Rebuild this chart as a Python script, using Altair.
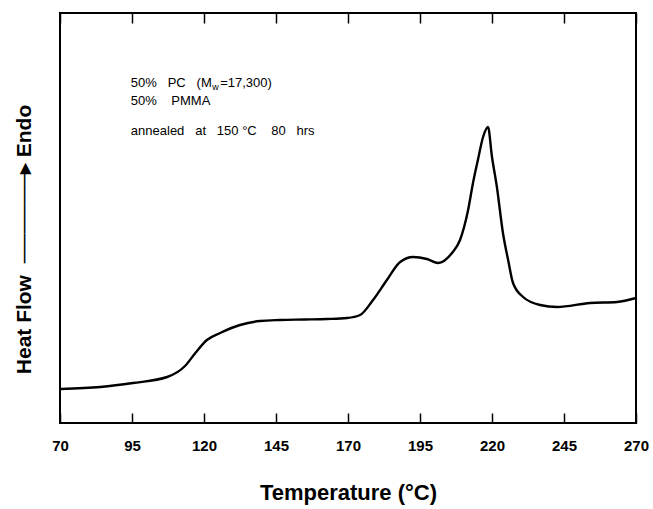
import altair as alt
import pandas as pd

# DSC trace (temperature in °C, heat flow in arbitrary units)
temperature = [70.3, 84.0, 95.3, 107.2, 113.4, 117.0, 121.0, 125.6, 132.5, 139.4,
               146.4, 155.0, 162.7, 169.7, 174.2, 178.7, 183.5, 188.1, 192.6, 197.4,
               201.3, 206.1, 208.9, 211.7, 213.4, 215.1, 216.9, 218.6, 220.0, 221.7,
               223.8, 225.6, 227.3, 230.8, 236.7, 242.6, 254.0, 263.4, 270.0]
heat_flow = [34, 36, 40, 46, 57, 70, 83, 90, 98, 102,
             103, 103.5, 104, 105, 108, 123, 143, 161, 166, 164,
             160, 170, 183, 213, 240, 263, 286, 296, 266, 236,
             190, 163, 140, 126, 118, 116, 120, 121, 125]
x_ticks = [70, 95, 120, 145, 170, 195, 220, 245, 270]

NB = "\u00a0"
line1_main = "50%" + NB * 3 + "PC" + NB * 3 + "(M"
line1_sub = "w"
line1_rest = "=17,300)"
line2 = "50%" + NB * 4 + "PMMA"
line3 = ("annealed" + NB * 3 + "at" + NB * 3 + "150" + NB + "°C" + NB * 4
         + "80" + NB * 3 + "hrs")
y_title = "Heat Flow" + NB * 2 + "\u2500" * 6 + "\u25B8" + NB + "Endo"

FONT = "Liberation Sans"

df = pd.DataFrame({"T": temperature, "H": heat_flow})

xscale = alt.Scale(domain=[70, 270], nice=False, zero=False)
yscale = alt.Scale(domain=[0, 410], nice=False, zero=False)

x_bottom = alt.X(
    "T:Q", scale=xscale,
    axis=alt.Axis(
        orient="bottom", values=x_ticks, offset=-10, tickSize=10, tickWidth=1.5,
        tickColor="black", domain=False, grid=False, labelFlush=False,
        labelOverlap=False, labelFont=FONT, labelFontSize=15, labelFontWeight="bold",
        labelColor="black", labelPadding=15,
        title="Temperature (\u00b0C)", titleFont=FONT, titleFontSize=22,
        titleFontWeight="bold", titleColor="black", titleX=288, titleY=79,
        titleBaseline="middle", titleAlign="center",
    ),
)
x_top = alt.X(
    "T:Q", scale=xscale,
    axis=alt.Axis(
        orient="top", values=x_ticks, offset=-10, tickSize=10, tickWidth=1.5,
        tickColor="black", domain=False, grid=False, labels=False, title=None,
    ),
)
x_plain = alt.X("T:Q", scale=xscale, axis=None)

y_main = alt.Y(
    "H:Q", scale=yscale,
    axis=alt.Axis(
        orient="left", ticks=False, labels=False, domain=False, grid=False,
        title=y_title, titleFont=FONT, titleFontSize=21,
        titleFontWeight="bold", titleColor="black", titleAngle=270,
        titleX=-36, titleY=226, titleBaseline="middle", titleAlign="center",
    ),
)

curve = alt.Chart(df).mark_line(
    color="black", strokeWidth=2.4, interpolate="monotone"
).encode(x=x_bottom, y=y_main)


def label(text, t, h, size=13, top_axis=False):
    d = pd.DataFrame({"T": [t], "H": [h], "txt": [text]})
    return alt.Chart(d).mark_text(
        align="left", baseline="alphabetic", font=FONT, fontSize=size,
        color="black", fontWeight="normal",
    ).encode(x=x_top if top_axis else x_plain, y=y_main, text="txt:N")


ann = [
    label(line1_main, 94.6, 336, top_axis=True),
    label(line1_sub, 122.9, 333, size=9),
    label(line1_rest, 125.6, 336),
    label(line2, 94.6, 318),
    label(line3, 94.6, 288),
]

chart = alt.layer(curve, *ann).resolve_axis(x="independent").properties(
    width=576, height=410,
    autosize=alt.AutoSizeParams(type="none"),
    padding={"left": 60, "top": 13, "right": 17, "bottom": 86},
).configure_view(stroke="black", strokeWidth=2)

chart.save("out.html", embed_options={"renderer": "svg", "actions": False})
